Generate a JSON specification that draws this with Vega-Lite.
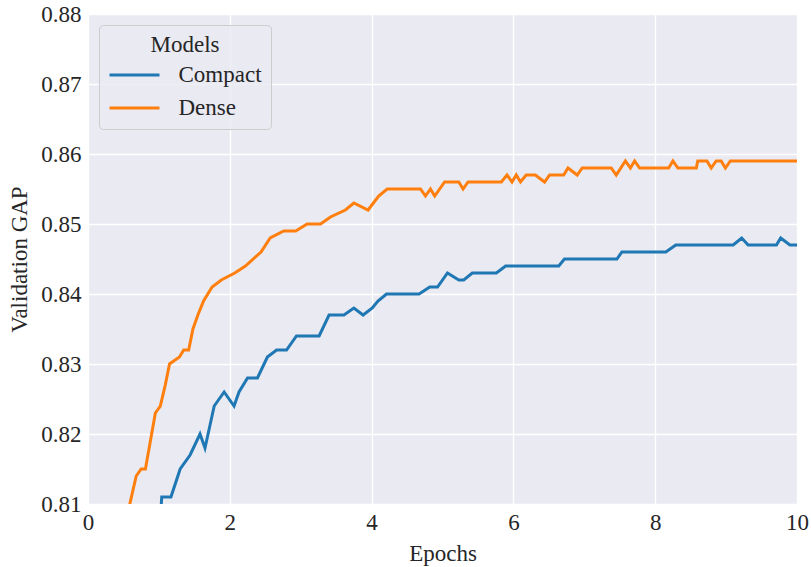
{
  "$schema": "https://vega.github.io/schema/vega-lite/v6.json",
  "width": 709,
  "height": 490,
  "autosize": {"type": "none"},
  "padding": {"left": 88, "top": 14, "right": 14, "bottom": 63},
  "background": "white",
  "config": {
    "view": {"fill": "#EAEAF2", "stroke": null},
    "font": "Liberation Serif",
    "axis": {
      "domain": false,
      "ticks": false,
      "grid": true,
      "gridColor": "white",
      "gridWidth": 1.3,
      "labelFont": "Liberation Serif",
      "labelFontSize": 23,
      "labelColor": "#262626",
      "labelPadding": 7,
      "titleFont": "Liberation Serif",
      "titleFontSize": 23,
      "titleFontWeight": "normal",
      "titleColor": "#262626"
    },
    "legend": {
      "orient": "none",
      "legendX": 11,
      "legendY": 11,
      "fillColor": "rgba(234,234,242,0.8)",
      "strokeColor": "#cccccc",
      "cornerRadius": 4,
      "padding": 9,
      "titleFont": "Liberation Serif",
      "titleFontSize": 23,
      "titleFontWeight": "normal",
      "titleColor": "#262626",
      "titleAnchor": "middle",
      "titlePadding": 4,
      "labelFont": "Liberation Serif",
      "labelFontSize": 23,
      "labelColor": "#262626",
      "symbolType": "M-2,0H2",
      "symbolSize": 625,
      "symbolStrokeWidth": 3,
      "symbolOffset": 12.5,
      "labelOffset": 30,
      "rowPadding": 7
    }
  },
  "data": {
    "values": [
      {"model": "Compact", "epoch": 0.97, "gap": 0.800},
      {"model": "Compact", "epoch": 1.04, "gap": 0.811},
      {"model": "Compact", "epoch": 1.17, "gap": 0.811},
      {"model": "Compact", "epoch": 1.30, "gap": 0.815},
      {"model": "Compact", "epoch": 1.44, "gap": 0.817},
      {"model": "Compact", "epoch": 1.58, "gap": 0.820},
      {"model": "Compact", "epoch": 1.65, "gap": 0.818},
      {"model": "Compact", "epoch": 1.78, "gap": 0.824},
      {"model": "Compact", "epoch": 1.92, "gap": 0.826},
      {"model": "Compact", "epoch": 2.06, "gap": 0.824},
      {"model": "Compact", "epoch": 2.13, "gap": 0.826},
      {"model": "Compact", "epoch": 2.25, "gap": 0.828},
      {"model": "Compact", "epoch": 2.39, "gap": 0.828},
      {"model": "Compact", "epoch": 2.53, "gap": 0.831},
      {"model": "Compact", "epoch": 2.66, "gap": 0.832},
      {"model": "Compact", "epoch": 2.80, "gap": 0.832},
      {"model": "Compact", "epoch": 2.94, "gap": 0.834},
      {"model": "Compact", "epoch": 3.26, "gap": 0.834},
      {"model": "Compact", "epoch": 3.40, "gap": 0.837},
      {"model": "Compact", "epoch": 3.61, "gap": 0.837},
      {"model": "Compact", "epoch": 3.75, "gap": 0.838},
      {"model": "Compact", "epoch": 3.88, "gap": 0.837},
      {"model": "Compact", "epoch": 4.01, "gap": 0.838},
      {"model": "Compact", "epoch": 4.09, "gap": 0.839},
      {"model": "Compact", "epoch": 4.21, "gap": 0.840},
      {"model": "Compact", "epoch": 4.67, "gap": 0.840},
      {"model": "Compact", "epoch": 4.82, "gap": 0.841},
      {"model": "Compact", "epoch": 4.93, "gap": 0.841},
      {"model": "Compact", "epoch": 5.07, "gap": 0.843},
      {"model": "Compact", "epoch": 5.23, "gap": 0.842},
      {"model": "Compact", "epoch": 5.30, "gap": 0.842},
      {"model": "Compact", "epoch": 5.42, "gap": 0.843},
      {"model": "Compact", "epoch": 5.76, "gap": 0.843},
      {"model": "Compact", "epoch": 5.89, "gap": 0.844},
      {"model": "Compact", "epoch": 6.64, "gap": 0.844},
      {"model": "Compact", "epoch": 6.72, "gap": 0.845},
      {"model": "Compact", "epoch": 7.46, "gap": 0.845},
      {"model": "Compact", "epoch": 7.53, "gap": 0.846},
      {"model": "Compact", "epoch": 8.15, "gap": 0.846},
      {"model": "Compact", "epoch": 8.29, "gap": 0.847},
      {"model": "Compact", "epoch": 9.10, "gap": 0.847},
      {"model": "Compact", "epoch": 9.22, "gap": 0.848},
      {"model": "Compact", "epoch": 9.31, "gap": 0.847},
      {"model": "Compact", "epoch": 9.71, "gap": 0.847},
      {"model": "Compact", "epoch": 9.77, "gap": 0.848},
      {"model": "Compact", "epoch": 9.90, "gap": 0.847},
      {"model": "Compact", "epoch": 10.0, "gap": 0.847},
      {"model": "Dense", "epoch": 0.50, "gap": 0.806},
      {"model": "Dense", "epoch": 0.68, "gap": 0.814},
      {"model": "Dense", "epoch": 0.75, "gap": 0.815},
      {"model": "Dense", "epoch": 0.81, "gap": 0.815},
      {"model": "Dense", "epoch": 0.95, "gap": 0.823},
      {"model": "Dense", "epoch": 1.02, "gap": 0.824},
      {"model": "Dense", "epoch": 1.09, "gap": 0.827},
      {"model": "Dense", "epoch": 1.15, "gap": 0.830},
      {"model": "Dense", "epoch": 1.29, "gap": 0.831},
      {"model": "Dense", "epoch": 1.35, "gap": 0.832},
      {"model": "Dense", "epoch": 1.42, "gap": 0.832},
      {"model": "Dense", "epoch": 1.48, "gap": 0.835},
      {"model": "Dense", "epoch": 1.55, "gap": 0.837},
      {"model": "Dense", "epoch": 1.63, "gap": 0.839},
      {"model": "Dense", "epoch": 1.75, "gap": 0.841},
      {"model": "Dense", "epoch": 1.88, "gap": 0.842},
      {"model": "Dense", "epoch": 2.07, "gap": 0.843},
      {"model": "Dense", "epoch": 2.22, "gap": 0.844},
      {"model": "Dense", "epoch": 2.44, "gap": 0.846},
      {"model": "Dense", "epoch": 2.57, "gap": 0.848},
      {"model": "Dense", "epoch": 2.76, "gap": 0.849},
      {"model": "Dense", "epoch": 2.93, "gap": 0.849},
      {"model": "Dense", "epoch": 3.09, "gap": 0.850},
      {"model": "Dense", "epoch": 3.28, "gap": 0.850},
      {"model": "Dense", "epoch": 3.42, "gap": 0.851},
      {"model": "Dense", "epoch": 3.63, "gap": 0.852},
      {"model": "Dense", "epoch": 3.75, "gap": 0.853},
      {"model": "Dense", "epoch": 3.95, "gap": 0.852},
      {"model": "Dense", "epoch": 4.10, "gap": 0.854},
      {"model": "Dense", "epoch": 4.22, "gap": 0.855},
      {"model": "Dense", "epoch": 4.69, "gap": 0.855},
      {"model": "Dense", "epoch": 4.76, "gap": 0.854},
      {"model": "Dense", "epoch": 4.83, "gap": 0.855},
      {"model": "Dense", "epoch": 4.89, "gap": 0.854},
      {"model": "Dense", "epoch": 5.03, "gap": 0.856},
      {"model": "Dense", "epoch": 5.23, "gap": 0.856},
      {"model": "Dense", "epoch": 5.29, "gap": 0.855},
      {"model": "Dense", "epoch": 5.36, "gap": 0.856},
      {"model": "Dense", "epoch": 5.83, "gap": 0.856},
      {"model": "Dense", "epoch": 5.91, "gap": 0.857},
      {"model": "Dense", "epoch": 5.98, "gap": 0.856},
      {"model": "Dense", "epoch": 6.04, "gap": 0.857},
      {"model": "Dense", "epoch": 6.10, "gap": 0.856},
      {"model": "Dense", "epoch": 6.18, "gap": 0.857},
      {"model": "Dense", "epoch": 6.31, "gap": 0.857},
      {"model": "Dense", "epoch": 6.44, "gap": 0.856},
      {"model": "Dense", "epoch": 6.51, "gap": 0.857},
      {"model": "Dense", "epoch": 6.71, "gap": 0.857},
      {"model": "Dense", "epoch": 6.77, "gap": 0.858},
      {"model": "Dense", "epoch": 6.90, "gap": 0.857},
      {"model": "Dense", "epoch": 6.97, "gap": 0.858},
      {"model": "Dense", "epoch": 7.38, "gap": 0.858},
      {"model": "Dense", "epoch": 7.45, "gap": 0.857},
      {"model": "Dense", "epoch": 7.58, "gap": 0.859},
      {"model": "Dense", "epoch": 7.65, "gap": 0.858},
      {"model": "Dense", "epoch": 7.71, "gap": 0.859},
      {"model": "Dense", "epoch": 7.78, "gap": 0.858},
      {"model": "Dense", "epoch": 8.19, "gap": 0.858},
      {"model": "Dense", "epoch": 8.25, "gap": 0.859},
      {"model": "Dense", "epoch": 8.32, "gap": 0.858},
      {"model": "Dense", "epoch": 8.58, "gap": 0.858},
      {"model": "Dense", "epoch": 8.60, "gap": 0.859},
      {"model": "Dense", "epoch": 8.73, "gap": 0.859},
      {"model": "Dense", "epoch": 8.79, "gap": 0.858},
      {"model": "Dense", "epoch": 8.86, "gap": 0.859},
      {"model": "Dense", "epoch": 8.93, "gap": 0.859},
      {"model": "Dense", "epoch": 8.99, "gap": 0.858},
      {"model": "Dense", "epoch": 9.06, "gap": 0.859},
      {"model": "Dense", "epoch": 10.0, "gap": 0.859}
    ]
  },
  "mark": {"type": "line", "strokeWidth": 3, "clip": true},
  "encoding": {
    "x": {
      "field": "epoch",
      "type": "quantitative",
      "scale": {"domain": [0, 10], "nice": false},
      "axis": {"values": [0, 2, 4, 6, 8, 10], "title": "Epochs", "titlePadding": 8, "labelFlush": false}
    },
    "y": {
      "field": "gap",
      "type": "quantitative",
      "scale": {"domain": [0.81, 0.88], "nice": false, "zero": false},
      "axis": {"values": [0.81, 0.82, 0.83, 0.84, 0.85, 0.86, 0.87, 0.88], "format": ".2f", "title": "Validation GAP", "titlePadding": 9}
    },
    "color": {
      "field": "model",
      "type": "nominal",
      "scale": {"domain": ["Compact", "Dense"], "range": ["#1f77b4", "#ff7f0e"]},
      "legend": {"title": "Models"}
    }
  }
}
